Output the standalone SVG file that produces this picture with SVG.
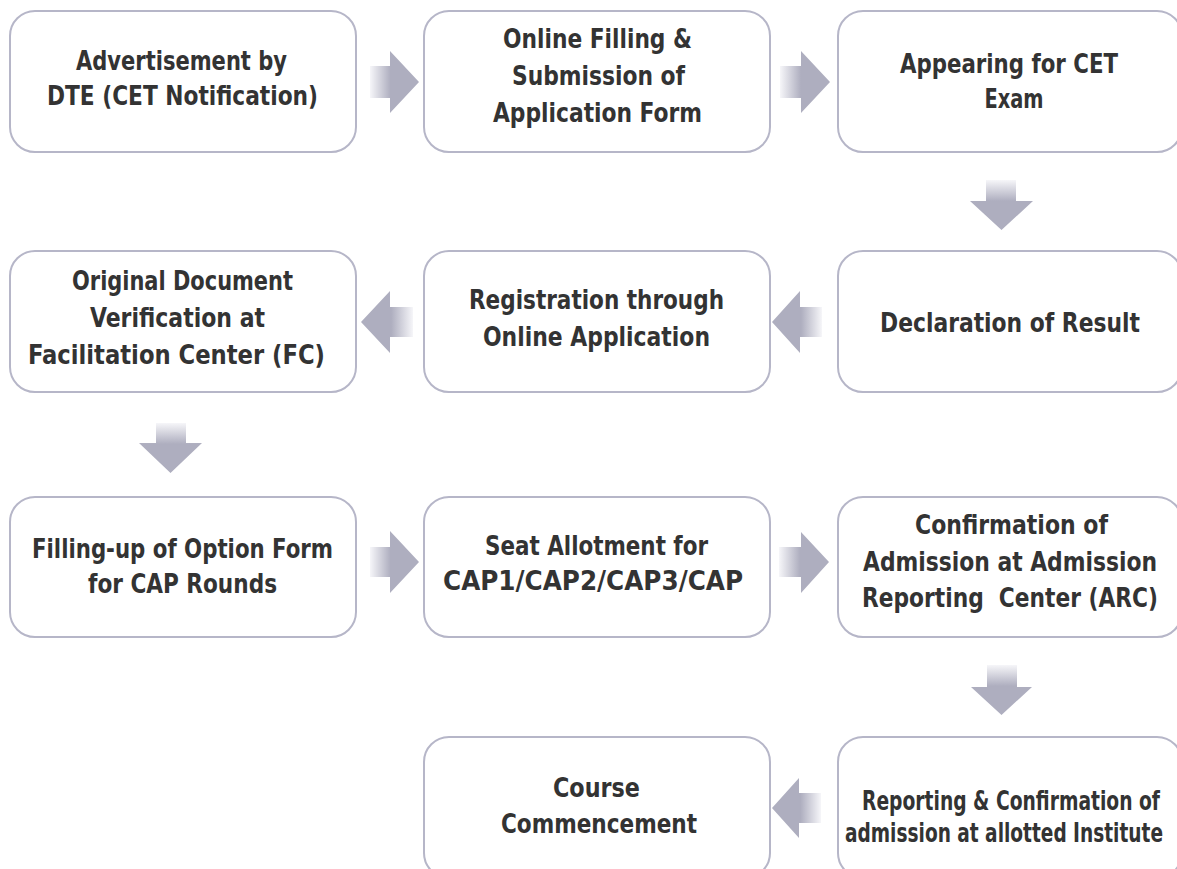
<svg xmlns="http://www.w3.org/2000/svg" width="1177" height="869" viewBox="0 0 1177 869">
<defs>
<linearGradient id="gR" x1="0" y1="0" x2="1" y2="0">
<stop offset="0" stop-color="#f6f6f9"/><stop offset="0.42" stop-color="#aeaebf"/><stop offset="1" stop-color="#aeaebf"/>
</linearGradient>
<linearGradient id="gL" x1="1" y1="0" x2="0" y2="0">
<stop offset="0" stop-color="#f6f6f9"/><stop offset="0.42" stop-color="#aeaebf"/><stop offset="1" stop-color="#aeaebf"/>
</linearGradient>
<linearGradient id="gD" x1="0" y1="0" x2="0" y2="1">
<stop offset="0" stop-color="#f6f6f9"/><stop offset="0.42" stop-color="#aeaebf"/><stop offset="1" stop-color="#aeaebf"/>
</linearGradient>
<style>
.box{fill:#ffffff;stroke:#b6b6c8;stroke-width:2}
.t{font-family:"DejaVu Sans Condensed","DejaVu Sans",sans-serif;font-weight:bold;font-stretch:condensed;font-size:27px;fill:#333333;text-anchor:middle}
</style>
</defs>
<rect width="1177" height="869" fill="#ffffff"/>

<g id="connectors">
<path d="M370 66H390V51L419 82L390 113V98H370Z" fill="url(#gR)"/>
<path d="M780 66H801V51L830 82L801 113V98H780Z" fill="url(#gR)"/>
<path d="M986 180H1016V201H1033L1001.5 230L970 201H986Z" fill="url(#gD)"/>
<path d="M822 307H800V291L772 322L800 353V337H822Z" fill="url(#gL)"/>
<path d="M413 307H390V291L361 322L390 353V337H413Z" fill="url(#gL)"/>
<path d="M156 423H186V443H202L170.5 473L139 443H156Z" fill="url(#gD)"/>
<path d="M370 547H390V531L419 562L390 593V577H370Z" fill="url(#gR)"/>
<path d="M779 547H801V532L829 562L801 593V577H779Z" fill="url(#gR)"/>
<path d="M987 665H1017V687H1032L1001.5 715L971 687H987Z" fill="url(#gD)"/>
<path d="M821 793H799V778L772 808L799 838V823H821Z" fill="url(#gL)"/>
</g>

<g id="n1"><rect class="box" x="10" y="11" width="346" height="141" rx="25"/>
<text class="t" x="181.5" y="70" textLength="211" lengthAdjust="spacingAndGlyphs">Advertisement by</text><text class="t" x="182.5" y="105" textLength="271" lengthAdjust="spacingAndGlyphs">DTE (CET Notification)</text></g>
<g id="n2"><rect class="box" x="424" y="11" width="346" height="141" rx="25"/>
<text class="t" x="597.5" y="48" textLength="189" lengthAdjust="spacingAndGlyphs">Online Filling &amp;</text><text class="t" x="598.5" y="85" textLength="173" lengthAdjust="spacingAndGlyphs">Submission of</text><text class="t" x="597.5" y="122" textLength="209" lengthAdjust="spacingAndGlyphs">Application Form</text></g>
<g id="n3"><rect class="box" x="838" y="11" width="344" height="141" rx="25"/>
<text class="t" x="1009" y="73" textLength="218" lengthAdjust="spacingAndGlyphs">Appearing for CET</text><text class="t" x="1014" y="108" textLength="59" lengthAdjust="spacingAndGlyphs">Exam</text></g>

<g id="n4"><rect class="box" x="838" y="251" width="344" height="141" rx="25"/>
<text class="t" x="1010" y="332" textLength="260" lengthAdjust="spacingAndGlyphs">Declaration of Result</text></g>
<g id="n5"><rect class="box" x="424" y="251" width="346" height="141" rx="25"/>
<text class="t" x="596.5" y="309" textLength="255" lengthAdjust="spacingAndGlyphs">Registration through</text><text class="t" x="596.5" y="346" textLength="227" lengthAdjust="spacingAndGlyphs">Online Application</text></g>
<g id="n6"><rect class="box" x="10" y="251" width="346" height="141" rx="25"/>
<text class="t" x="182.5" y="290" textLength="221" lengthAdjust="spacingAndGlyphs">Original Document</text><text class="t" x="177.5" y="327" textLength="175" lengthAdjust="spacingAndGlyphs">Verification at</text><text class="t" x="176.5" y="364" textLength="297" lengthAdjust="spacingAndGlyphs">Facilitation Center (FC)</text></g>

<g id="n7"><rect class="box" x="10" y="497" width="346" height="140" rx="25"/>
<text class="t" x="182.5" y="558" textLength="301" lengthAdjust="spacingAndGlyphs">Filling-up of Option Form</text><text class="t" x="182.5" y="593" textLength="189" lengthAdjust="spacingAndGlyphs">for CAP Rounds</text></g>
<g id="n8"><rect class="box" x="424" y="497" width="346" height="140" rx="25"/>
<text class="t" x="596.5" y="555" textLength="223" lengthAdjust="spacingAndGlyphs">Seat Allotment for</text><text class="t" x="593" y="590" textLength="300" lengthAdjust="spacingAndGlyphs">CAP1/CAP2/CAP3/CAP</text></g>
<g id="n9"><rect class="box" x="838" y="497" width="344" height="140" rx="25"/>
<text class="t" x="1011.5" y="534" textLength="193" lengthAdjust="spacingAndGlyphs">Confirmation of</text><text class="t" x="1010" y="571" textLength="294" lengthAdjust="spacingAndGlyphs">Admission at Admission</text><text class="t" x="1010" y="607" textLength="296" lengthAdjust="spacingAndGlyphs" xml:space="preserve">Reporting  Center (ARC)</text></g>

<g id="n10"><rect class="box" x="838" y="737" width="344" height="141" rx="25"/>
<text class="t" x="1011" y="810" textLength="298" lengthAdjust="spacingAndGlyphs">Reporting &amp; Confirmation of</text><text class="t" x="1004" y="842" textLength="318" lengthAdjust="spacingAndGlyphs">admission at allotted Institute</text></g>
<g id="n11"><rect class="box" x="424" y="737" width="346" height="141" rx="25"/>
<text class="t" x="596.5" y="797" textLength="87" lengthAdjust="spacingAndGlyphs">Course</text><text class="t" x="599" y="833" textLength="196" lengthAdjust="spacingAndGlyphs">Commencement</text></g>
</svg>
